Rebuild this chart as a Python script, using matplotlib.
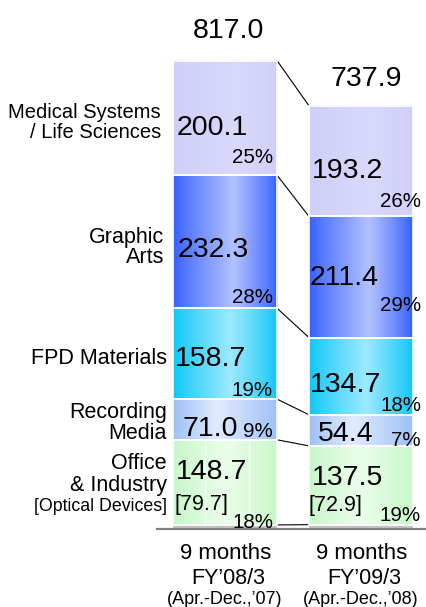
import numpy as np
import matplotlib
matplotlib.use("Agg")
import matplotlib.pyplot as plt
from matplotlib.colors import to_rgb

plt.rcParams['font.family'] = ['Liberation Sans', 'DejaVu Sans']

# ---------------- data ----------------
period_labels = ["9 months", "9 months"]
fy_labels = ["FY\u201908/3", "FY\u201909/3"]
range_labels = ["(Apr.-Dec.,\u201907)", "(Apr.-Dec.,\u201908)"]

others = [6.2, 6.7]
office = [148.7, 137.5]
recording = [71.0, 54.4]
fpd = [158.7, 134.7]
graphic = [232.3, 211.4]
medical = [200.1, 193.2]
optical = [79.7, 72.9]
totals = [817.0, 737.9]

office_pct = [18, 19]
recording_pct = [9, 7]
fpd_pct = [19, 18]
graphic_pct = [28, 29]
medical_pct = [25, 26]

segment_names = ["Office\n& Industry", "Recording\nMedia", "FPD Materials",
                 "Graphic\nArts", "Medical Systems\n/ Life Sciences"]

# ---------------- styles ----------------
# (edge colour, centre colour, peak position)
seg_styles = [
    ("#c8f7c8", "#eafdea", 0.50),   # office
    ("#9dbff6", "#e0ebff", 0.42),   # recording
    ("#0ec6f8", "#9ceaff", 0.55),   # fpd
    ("#3660ff", "#b2c2ff", 0.58),   # graphic
    ("#cecef8", "#d9d9fc", 0.60),   # medical
]
others_color = "#c4c4c4"

PX = 0.5728            # pixels per data unit (vertical)
W_PX, H_PX = 427, 607
x_px_per_unit = 136.0
xc0_px = 225.0
base_px = 528.5

fig = plt.figure(figsize=(W_PX / 100, H_PX / 100), dpi=100)
ax = fig.add_axes([0, 0, 1, 1])
ax.axis('off')

xpos = np.arange(2)
width = 104 / x_px_per_unit

series = [office, recording, fpd, graphic, medical]
pcts = [office_pct, recording_pct, fpd_pct, graphic_pct, medical_pct]

# others segment
ax.bar(xpos, others, width=width, color=others_color, edgecolor='none', zorder=2)
bottoms = np.array(others, dtype=float)
seg_bottoms = []
seg_tops = []
for vals, (ce, cc, pk) in zip(series, seg_styles):
    vals = np.array(vals, dtype=float)
    bars = ax.bar(xpos, vals, bottom=bottoms, width=width, color='none',
                  edgecolor='white', linewidth=1.2, zorder=3)
    t = np.linspace(0, 1, 200)
    w = np.where(t < pk, t / pk, (1 - t) / (1 - pk))
    w = np.clip(w, 0, 1) ** 0.9
    e = np.array(to_rgb(ce)); c = np.array(to_rgb(cc))
    img = e[None, :] * (1 - w[:, None]) + c[None, :] * w[:, None]
    img = img[None, :, :]
    for b in bars:
        x0, y0 = b.get_x(), b.get_y()
        ax.imshow(img, extent=(x0, x0 + b.get_width(), y0, y0 + b.get_height()),
                  aspect='auto', interpolation='bilinear', zorder=2)
    seg_bottoms.append(bottoms.copy())
    bottoms = bottoms + vals
    seg_tops.append(bottoms.copy())

ax.set_xlim((0 - xc0_px) / x_px_per_unit, (W_PX - xc0_px) / x_px_per_unit)
ax.set_ylim(-(H_PX - base_px) / PX, base_px / PX)

# faint vertical streaks in first office segment
for f in (0.31, 0.73):
    xv = xpos[0] - width / 2 + f * width
    ax.plot([xv, xv], [seg_bottoms[0][0], seg_tops[0][0]], color='white', lw=1.0,
            alpha=0.8, zorder=2.5)

# connector lines
right0 = xpos[0] + width / 2
left1 = xpos[1] - width / 2
levels = [others] + [list(s) for s in seg_tops]
for lv in levels:
    ax.plot([right0, left1], [lv[0], lv[1]], color='black', lw=0.8, zorder=1)

# baseline
ax.axhline(-1.2, xmin=157 / W_PX, xmax=1, color='#808080', lw=1.6, zorder=4)

EM = 100 / 72.0


def put(txt, x, y, dx, dy, size, ha='left'):
    """dy: visual centre of digits above anchor in pixels"""
    ax.annotate(txt, xy=(x, y), xytext=(dx, dy - 0.355 * size * EM),
                textcoords='offset pixels', ha=ha, va='baseline',
                fontsize=size, color='black', zorder=6)


# value & pct offsets (pixels above segment bottom)
val_dy = [[56, 50], [14, 15], [43, 33], [61, 63], [50, 49]]
val_dx = [[3, 3], [10, 9], [2, 1], [5, 1], [4, 3]]
pct_dy = [[4, 11], [10, 7], [10, 11], [12, 34], [19, 17]]
pct_dx = [-4, 8]
for k in range(5):
    for i in range(2):
        lx = xpos[i] - width / 2
        rx = xpos[i] + width / 2
        sb = seg_bottoms[k][i]
        put(f"{series[k][i]:.1f}", lx, sb, val_dx[k][i], val_dy[k][i], 20.5)
        put(f"{pcts[k][i]}%", rx, sb, pct_dx[i], pct_dy[k][i], 14.8, ha='right')

# optical devices bracket values
opt_dy = [23, 21]
for i in range(2):
    lx = xpos[i] - width / 2
    put(f"[{optical[i]}]", lx, seg_bottoms[0][i], [2, 0][i], opt_dy[i], 15.5)

# totals
tot_dy = [33, 30]
tot_dx = [3, 5]
for i in range(2):
    put(f"{totals[i]:.1f}", xpos[i], totals[i], tot_dx[i], tot_dy[i], 20.5, ha='center')

# left segment labels (per line)
lx0 = xpos[0] - width / 2
label_lines = [
    [("Office", 64), ("& Industry", 42)],
    [("Recording", 29), ("Media", 8)],
    [("FPD Materials", 43)],
    [("Graphic", 73), ("Arts", 53)],
    [("Medical Systems", 64), ("/ Life Sciences", 44)],
]
label_dx = [-6, -6, -6, -9, -12]
label_size = [15.5, 15.5, 15.5, 15.5, 14.5]
for k, lines in enumerate(label_lines):
    for txt, dy in lines:
        put(txt, lx0, seg_bottoms[k][0], label_dx[k], dy, label_size[k], ha='right')
put("[Optical Devices]", lx0, seg_bottoms[0][0], -6, 20, 12.8, ha='right')

# category labels
for i in range(2):
    put(period_labels[i], xpos[i], 0, 1, -23, 16, ha='center')
    put(fy_labels[i], xpos[i], 0, 3, -48, 15.5, ha='center')
    put(range_labels[i], xpos[i], 0, 0, -69, 13, ha='center')

fig.savefig("out.png", dpi=100)
